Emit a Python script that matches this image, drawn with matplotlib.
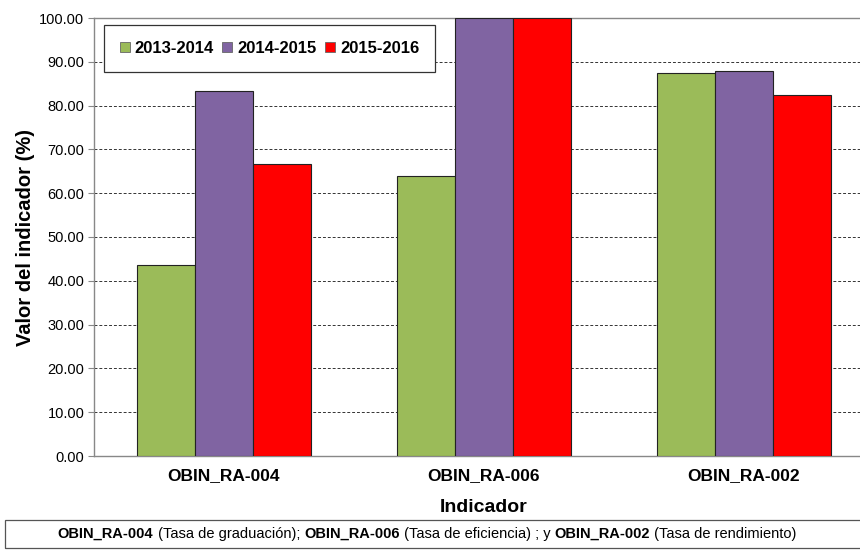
import matplotlib
matplotlib.use("Agg")
import matplotlib.pyplot as plt
from matplotlib.patches import Rectangle
import numpy as np

plt.rcParams['font.family'] = ['Liberation Sans', 'DejaVu Sans']

categories = ["OBIN_RA-004", "OBIN_RA-006", "OBIN_RA-002"]
series_names = ["2013-2014", "2014-2015", "2015-2016"]
values_2013 = [43.6, 63.9, 87.4]
values_2014 = [83.3, 100.0, 87.9]
values_2015 = [66.7, 100.0, 82.4]
colors = ["#9BBB59", "#8064A2", "#FF0000"]
y_ticks = [0, 10, 20, 30, 40, 50, 60, 70, 80, 90, 100]

fig = plt.figure(figsize=(8.6, 5.51), dpi=100)
# axes extends slightly past the right edge of the canvas
ax = fig.add_axes([94 / 860, 1 - 456 / 551, 780 / 860, 438 / 551])

x = np.arange(len(categories))
bw = 58 / 260
series = [values_2013, values_2014, values_2015]
for i, (vals, name, c) in enumerate(zip(series, series_names, colors)):
    ax.bar(x + (i - 1) * bw, vals, width=bw, color=c, edgecolor="#222222",
           linewidth=0.8, label=name, zorder=3)

ax.set_xlim(-0.5, 2.5)
ax.set_ylim(0, 100)
ax.set_yticks(y_ticks)
ax.set_yticklabels([f"{v:.2f}" for v in y_ticks], fontsize=10.5)
ax.set_xticks(x)
ax.set_xticklabels(categories, fontsize=12.5, fontweight="bold")
ax.tick_params(axis="x", length=0, pad=9)
ax.tick_params(axis="y", length=4, color="#888888", pad=3)

ax.yaxis.grid(True, linestyle=(0, (3, 2)), color="#333333", linewidth=0.7, zorder=0)
ax.set_axisbelow(True)
for s in ["left", "bottom", "top"]:
    ax.spines[s].set_color("#888888")
    ax.spines[s].set_linewidth(1.0)
ax.spines["right"].set_visible(False)

ax.set_ylabel("Valor del indicador (%)", fontsize=14.5, fontweight="bold", labelpad=3)
ax.set_xlabel("Indicador", fontsize=14, fontweight="bold", labelpad=11)

leg = ax.legend(loc="upper left", bbox_to_anchor=(10 / 780, 1 - 7 / 438), ncol=3,
                frameon=True, fancybox=False, edgecolor="#333333", framealpha=1,
                prop={"size": 12, "weight": "bold"}, handlelength=0.6,
                handleheight=0.6, handletextpad=0.3, columnspacing=0.5,
                borderpad=0.95, borderaxespad=0)
leg.get_frame().set_linewidth(0.9)
leg.set_zorder(5)
for h in leg.legend_handles:
    h.set_edgecolor("#666666")
    h.set_linewidth(0.6)

# footnote box
fig.patches.append(Rectangle((5 / 860, 1 - 548 / 551), 860 / 860, 28 / 551,
                             transform=fig.transFigure, fill=False,
                             edgecolor="#555555", linewidth=0.9))

note_parts = [("OBIN_RA-004", "bold"), (" (Tasa de graduación); ", "normal"),
              ("OBIN_RA-006", "bold"), (" (Tasa de eficiencia) ; y ", "normal"),
              ("OBIN_RA-002", "bold"), (" (Tasa de rendimiento)", "normal")]
renderer = fig.canvas.get_renderer()
texts = []
for s, w in note_parts:
    t = fig.text(0, 1 - 534 / 551, s, fontsize=10.5, fontweight=w, va="center", ha="left")
    texts.append(t)
widths = [t.get_window_extent(renderer).width for t in texts]
total = sum(widths)
xpos = 427 - total / 2
for t, w in zip(texts, widths):
    t.set_x(xpos / 860)
    xpos += w

fig.savefig("out.png", dpi=100)
